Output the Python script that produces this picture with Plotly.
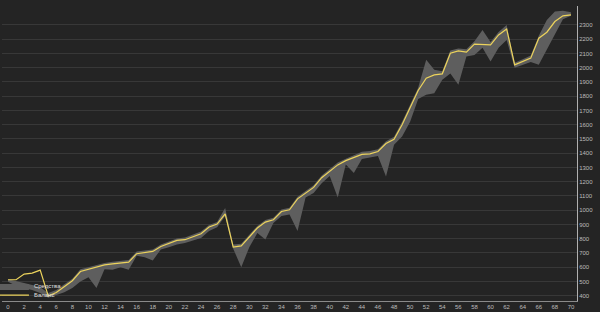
import plotly.graph_objects as go

x_vals = list(range(0, 71))

balance = [512, 512, 552, 559, 580, 398, 423, 465, 505, 570,
           587, 603, 617, 624, 629, 636, 695, 704, 711, 746,
           769, 788, 793, 816, 835, 882, 903, 975, 741, 750,
           816, 875, 917, 933, 991, 1003, 1080, 1118, 1160, 1228,
           1272, 1318, 1348, 1368, 1392, 1396, 1412, 1468, 1498, 1600,
           1720, 1840, 1927, 1950, 1957, 2102, 2118, 2109, 2165, 2165,
           2160, 2230, 2272, 2020, 2043, 2067, 2207, 2249, 2324, 2364,
           2371]

equity_high = [515, 505, 490, 475, 460, 420, 440, 480, 520, 585,
               600, 615, 630, 638, 643, 650, 710, 718, 725, 760,
               783, 802, 808, 830, 850, 897, 918, 1015, 760, 765,
               830, 890, 932, 948, 1005, 1018, 1095, 1133, 1175, 1243,
               1290, 1335, 1362, 1385, 1410, 1415, 1428, 1484, 1515, 1620,
               1740, 1860, 2055, 1985, 1975, 2120, 2135, 2130, 2185, 2265,
               2180, 2250, 2300, 2035, 2060, 2085, 2225, 2335, 2394, 2400,
               2390]

equity_low = [498, 470, 452, 440, 420, 385, 405, 425, 455, 500,
              530, 455, 585, 582, 600, 582, 680, 670, 648, 725,
              740, 760, 770, 790, 805, 855, 880, 960, 730, 600,
              740, 840, 795, 910, 960, 970, 855, 1090, 1120, 1190,
              1240, 1090, 1320, 1262, 1360, 1370, 1380, 1237, 1460, 1517,
              1620, 1780, 1810, 1821, 1915, 1960, 1880, 2078, 2090, 2140,
              2043, 2140, 2195, 2000, 2020, 2040, 2020, 2125, 2240, 2340,
              2365]

y_ticks = [400, 500, 600, 700, 800, 900, 1000, 1100, 1200, 1300,
           1400, 1500, 1600, 1700, 1800, 1900, 2000, 2100, 2200, 2300]

BG = "#242424"
GRAY = "#5e5e5e"
YELLOW = "#ecd35c"
FONT = "Liberation Sans"

fig = go.Figure()
fig.add_trace(go.Scatter(x=x_vals, y=equity_low, mode="lines",
                         line=dict(width=0, color=GRAY), showlegend=False,
                         hoverinfo="skip"))
fig.add_trace(go.Scatter(x=x_vals, y=equity_high, mode="lines", name="Средства",
                         line=dict(width=0, color=GRAY), fill="tonexty",
                         fillcolor=GRAY, legend="legend"))
fig.add_trace(go.Scatter(x=x_vals, y=balance, mode="lines", name="Баланс",
                         line=dict(width=1.2, color=YELLOW), legend="legend2"))

leg_common = dict(xanchor="left", yanchor="middle", bgcolor="rgba(0,0,0,0)",
                  font=dict(family=FONT, size=6, color="#e0e0e0"),
                  itemwidth=30, borderwidth=0, traceorder="normal")

fig.update_layout(
    width=600, height=312,
    margin=dict(l=2, r=23, t=6, b=11, autoexpand=False),
    paper_bgcolor=BG, plot_bgcolor=BG,
    font=dict(family=FONT, size=6, color="#bbbbbb"),
    legend=dict(x=-0.014, y=0.051, **leg_common),
    legend2=dict(x=-0.014, y=0.020, **leg_common),
    xaxis=dict(range=[-0.75, 70.75], tick0=0, dtick=2, showgrid=False,
               zeroline=False, showline=True, linecolor="#8a8a8a", linewidth=1,
               ticks="", tickfont=dict(family=FONT, size=6, color="#bbbbbb")),
    yaxis=dict(range=[363, 2433], side="right", tickvals=y_ticks,
               showgrid=True, gridcolor="#383838", gridwidth=1,
               zeroline=False, showline=True, linecolor="#b0b0b0", linewidth=1,
               ticks="", tickfont=dict(family=FONT, size=6, color="#bbbbbb")),
)

fig.write_html("out.html")
